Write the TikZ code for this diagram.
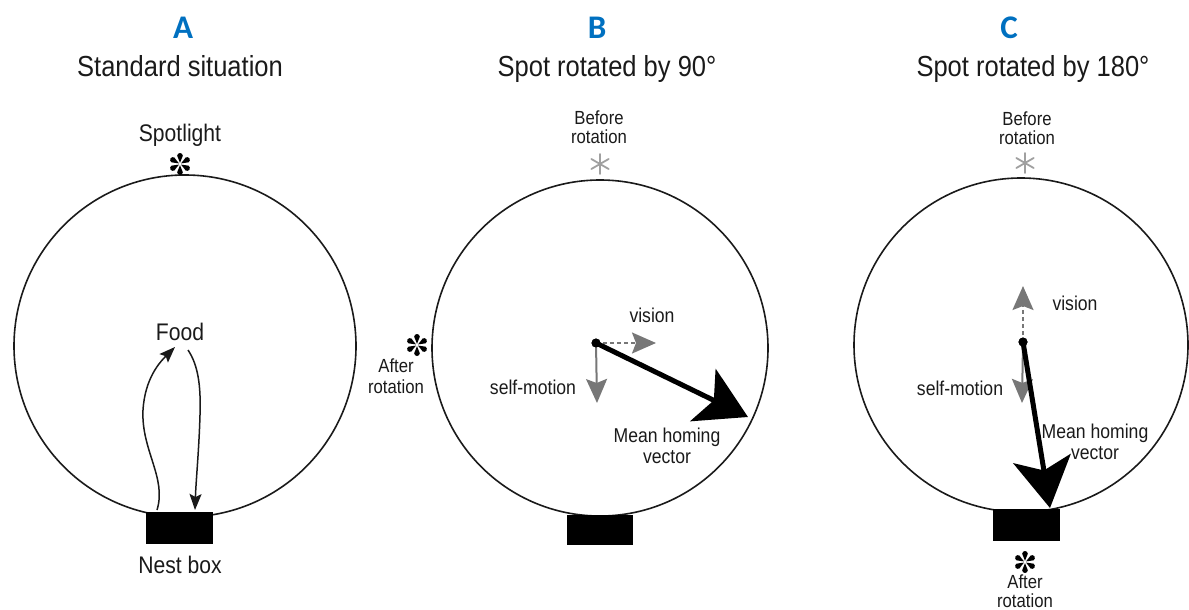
\documentclass[tikz,border=0pt]{standalone}
\usepackage{fontspec}
\setmainfont{Liberation Sans}[FakeStretch=0.88]
\newfontfamily\letterfont{Carlito}
\usetikzlibrary{arrows.meta}
\definecolor{ink}{HTML}{1A1A1A}
\definecolor{panelblue}{HTML}{0070C0}
\definecolor{cuegray}{HTML}{777777}
\definecolor{stargray}{HTML}{A0A0A0}
\begin{document}
\begin{tikzpicture}[x=1pt,y=-1pt,
  arena/.style={draw=ink, line width=1.6pt},
  nestbox/.style={fill=black, draw=none},
  title/.style={font=\fontsize{29}{32}\selectfont, text=ink, anchor=base, inner sep=0pt},
  letter/.style={font=\letterfont\bfseries\fontsize{33}{36}\selectfont, text=panelblue, anchor=base, inner sep=0pt},
  lbl/.style={font=\fontsize{24}{28}\selectfont, text=ink, anchor=base, inner sep=0pt},
  small/.style={font=\fontsize{19}{20}\selectfont, text=ink, anchor=base, inner sep=0pt},
  vlbl/.style={font=\fontsize{20}{22}\selectfont, text=ink, anchor=base, inner sep=0pt},
  trail/.style={draw=ink, line width=1.5pt, -{Stealth[length=16pt,width=12pt,inset=3pt]}},
  cue/.style={draw=cuegray, line width=2pt, -{Stealth[length=24pt,width=21pt,inset=4pt]}},
  visioncue/.style={cue, dash pattern=on 4pt off 3pt},
  homing/.style={draw=black, line width=5pt, -{Stealth[length=50pt,width=58pt,inset=12pt]}},
  dot/.style={circle, fill=black, inner sep=0pt, minimum size=9pt},
  bstar/.pic={\foreach \a in {90,150,210,270,330,390}
      {\fill[black, rotate=\a] (1.2,0) -- (8.2,-2.8) arc[start angle=-90,end angle=90,radius=2.8] -- cycle;}},
  gstar/.pic={\foreach \a in {30,90,150}
      {\draw[stargray, line width=1.8pt, line cap=round] (\a:-10) -- (\a:10);}}
]
\useasboundingbox (0,0) rectangle (1189,610);

% ---------- titles ----------
\node[letter] (letA) at (183,39) {A};
\node[letter] (letB) at (597,39) {B};
\node[letter] (letC) at (1009,39) {C};
\node[title] (titA) at (180,77) {Standard situation};
\node[title] (titB) at (607,77) {Spot rotated by 90°};
\node[title] (titC) at (1033,77) {Spot rotated by 180°};

% ---------- panel A ----------
\node[arena, circle, minimum size=342pt, inner sep=0pt] (arenaA) at (185,346) {};
\node[nestbox, minimum width=67pt, minimum height=32pt, inner sep=0pt] (nestA) at (179.5,528) {};
\node[lbl] (spotA) at (180,141) {Spotlight};
\pic (starA) at (180,164) {bstar};
\node[lbl] (food) at (180,340) {Food};
\node[lbl] (nestlblA) at (180,573) {Nest box};
\coordinate (outS) at (157,510);
\coordinate (outE) at (175,347);
\coordinate (inS) at (188,350);
\coordinate (inE) at (195,510);
\draw[trail] (outS) .. controls (167,478) and (141,450) .. (143,410)
                    .. controls (145,378) and (160,362) .. (outE);
\draw[trail] (inS) .. controls (198,365) and (201,385) .. (200,415)
                   .. controls (199,450) and (196,480) .. (inE);

% ---------- panel B ----------
\node[arena, circle, minimum size=336pt, inner sep=0pt] (arenaB) at (600,348) {};
\node[nestbox, minimum width=66pt, minimum height=30pt, inner sep=0pt] (nestB) at (600,530) {};
\node[small] (befB1) at (599,124) {Before};
\node[small] (befB2) at (599,143) {rotation};
\pic (starB0) at (600,164) {gstar};
\pic (starB1) at (417,345) {bstar};
\node[small] (aftB1) at (396,372) {After};
\node[small] (aftB2) at (396,393) {rotation};
\node[dot] (dotB) at (596,343) {};
\coordinate (visB) at (656,343);
\coordinate (selfB) at (597,403);
\coordinate (homB) at (748,417);
\draw[visioncue] (dotB.center) -- (visB);
\draw[cue] (dotB.center) -- (selfB);
\draw[homing] (dotB.center) -- (homB);
\node[dot] at (dotB) {};
\node[vlbl] (visBl) at (652,322) {vision};
\node[vlbl] (selfBl) at (533,394) {self-motion};
\node[vlbl] (homBl1) at (667,442) {Mean homing};
\node[vlbl] (homBl2) at (667,463) {vector};

% ---------- panel C ----------
\node[arena, circle, minimum size=334pt, inner sep=0pt] (arenaC) at (1021,345) {};
\node[nestbox, minimum width=67pt, minimum height=32pt, inner sep=0pt] (nestC) at (1026.5,525) {};
\node[small] (befC1) at (1027,125) {Before};
\node[small] (befC2) at (1027,144) {rotation};
\pic (starC0) at (1025,163) {gstar};
\pic (starC1) at (1025,562) {bstar};
\node[small] (aftC1) at (1025,588) {After};
\node[small] (aftC2) at (1025,607) {rotation};
\node[dot] (dotC) at (1023,342) {};
\coordinate (visC) at (1023,286);
\coordinate (selfC) at (1022,403);
\coordinate (homC) at (1050,508);
\draw[visioncue] (dotC.center) -- (visC);
\draw[cue] (dotC.center) -- (selfC);
\draw[homing] (dotC.center) -- (homC);
\node[dot] at (dotC) {};
\node[vlbl] (visCl) at (1075,310) {vision};
\node[vlbl] (selfCl) at (960,395) {self-motion};
\node[vlbl] (homCl1) at (1095,438) {Mean homing};
\node[vlbl] (homCl2) at (1095,459) {vector};
\end{tikzpicture}
\end{document}
